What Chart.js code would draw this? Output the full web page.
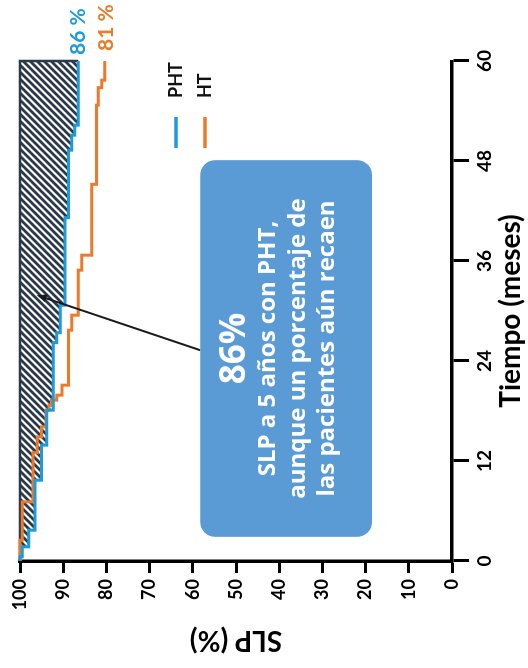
<!DOCTYPE html>
<html>
<head>
<meta charset="utf-8">
<script src="https://cdn.jsdelivr.net/npm/chart.js@4.4.0/dist/chart.umd.min.js"></script>
<style>
html,body{margin:0;padding:0;background:#fff;overflow:hidden;}
#wrap{position:absolute;left:0;top:0;width:668px;height:528px;transform-origin:0 0;transform:translateY(668px) rotate(-90deg);}
</style>
</head>
<body>
<div id="wrap"><canvas id="km" width="668" height="528"></canvas></div>
<script>
// months and progression-free survival (%)
const phtMonths=[0,0.5,1.7,3.7,9.7,13.9,18.1,26.2,27.4,30.7,41.2,49.3,51.1,52.3,60];
const phtSlp=[100,99.5,98,96.5,95,93.8,92.3,91.5,90.7,89.6,88.8,88,87.3,86.5,86.5];
const htMonths=[0,2.5,7.1,13,14.9,16.1,18.1,18.7,19.3,19.9,21.1,27.7,29.5,34.9,36.7,45.2,54.7,56.8,57.7,60];
const htSlp=[100,99.5,97,96,95,94,93.3,92.7,91.5,90.3,88.8,88,86.5,85.7,83.4,82.3,81.9,81.1,80.4,80.4];
const timeTicks=[0,12,24,36,48,60];
const slpTicks=[0,10,20,30,40,50,60,70,80,90,100];
const seriesNames=["PHT","HT"];
const endLabels=["86 %","81 %"];
const noteLines=["86%","SLP a 5 años con PHT,","aunque un porcentaje de","las pacientes aún recaen"];

const blue="#1d9bd8", orange="#ec7a2b", ink="#000", hatchInk="#2b394d", noteBlue="#5b9bd5";
const font="Lato, 'Open Sans', sans-serif";
const noteFont="'Open Sans', Lato, sans-serif";

function pts(xs,ys){
return xs.map((x,i)=>({x:x,y:ys[i]}));
}

function hatchPattern(ctx){
let c=document.createElement("canvas");
c.width=7;c.height=7;
let h=c.getContext("2d");
h.fillStyle="#fff";
h.fillRect(0,0,7,7);
h.strokeStyle=hatchInk;
h.lineWidth=2.8;
h.beginPath();
h.moveTo(-1,8);h.lineTo(8,-1);
h.moveTo(-2,2);h.lineTo(2,-2);
h.moveTo(5,9);h.lineTo(9,5);
h.stroke();
return ctx.createPattern(c,"repeat");
}

const notesPlugin={
id:"notes",
afterDraw(chart){
let ctx=chart.ctx, xs=chart.scales.x, ys=chart.scales.y, area=chart.chartArea;
ctx.save();

// arrow from the box to the hatched area
let x0=xs.getPixelForValue(25.3), y0=ys.getPixelForValue(58.3);
let x1=xs.getPixelForValue(31.9), y1=ys.getPixelForValue(96.1);
let a=Math.atan2(y1-y0,x1-x0);
ctx.strokeStyle="#1a1a1a";
ctx.fillStyle="#1a1a1a";
ctx.lineWidth=2;
ctx.beginPath();
ctx.moveTo(x0,y0);
ctx.lineTo(x1-6*Math.cos(a),y1-6*Math.sin(a));
ctx.stroke();
ctx.beginPath();
ctx.moveTo(x1,y1);
ctx.lineTo(x1-10*Math.cos(a)+4*Math.sin(a),y1-10*Math.sin(a)-4*Math.cos(a));
ctx.lineTo(x1-10*Math.cos(a)-4*Math.sin(a),y1-10*Math.sin(a)+4*Math.cos(a));
ctx.closePath();
ctx.fill();

// rounded note box
let bl=xs.getPixelForValue(2.9), br=xs.getPixelForValue(48.1);
let bt=ys.getPixelForValue(58.3), bb=ys.getPixelForValue(18.5);
let r=15;
ctx.fillStyle=noteBlue;
ctx.beginPath();
ctx.moveTo(bl+r,bt);
ctx.lineTo(br-r,bt);
ctx.arcTo(br,bt,br,bt+r,r);
ctx.lineTo(br,bb-r);
ctx.arcTo(br,bb,br-r,bb,r);
ctx.lineTo(bl+r,bb);
ctx.arcTo(bl,bb,bl,bb-r,r);
ctx.lineTo(bl,bt+r);
ctx.arcTo(bl,bt,bl+r,bt,r);
ctx.closePath();
ctx.fill();

let cx=(bl+br)/2;
ctx.fillStyle="#fff";
ctx.textAlign="center";
ctx.textBaseline="middle";
ctx.font="bold 35px "+noteFont;
ctx.fillText(noteLines[0],cx,bt+35);
ctx.font="bold 24px "+noteFont;
ctx.fillText(noteLines[1],cx,bt+68);
ctx.fillText(noteLines[2],cx,bt+98);
ctx.fillText(noteLines[3],cx,bt+127);

// legend
ctx.lineWidth=3.5;
ctx.textAlign="left";
ctx.font="bold 18px "+font;
[blue,orange].forEach((c,i)=>{
let ly=176+i*29;
ctx.strokeStyle=c;
ctx.beginPath();
ctx.moveTo(520,ly);ctx.lineTo(551,ly);
ctx.stroke();
ctx.fillStyle="#111";
ctx.fillText(seriesNames[i],570,ly);
});

// end-of-curve labels
ctx.font="bold 21px "+font;
ctx.fillStyle=blue;
ctx.fillText(endLabels[0],area.right+6,ys.getPixelForValue(phtSlp[phtSlp.length-1]));
ctx.fillStyle=orange;
ctx.fillText(endLabels[1],area.right+10,ys.getPixelForValue(htSlp[htSlp.length-1])+2);

ctx.restore();
}
};

let canvas=document.getElementById("km");
let ctx=canvas.getContext("2d");
let lastPht=phtSlp[phtSlp.length-1];

new Chart(canvas,{
type:"line",
data:{
datasets:[
{label:seriesNames[0],data:pts(phtMonths,phtSlp),borderColor:blue,borderWidth:3,stepped:true,pointRadius:0,fill:false,clip:6},
{label:seriesNames[1],data:pts(htMonths,htSlp),borderColor:orange,borderWidth:3,stepped:true,pointRadius:0,fill:false,clip:6},
{label:"edge",data:pts([0,60,60],[100,100,lastPht]),borderColor:hatchInk,borderWidth:2.5,pointRadius:0,fill:false,clip:6},
{label:"hatch",data:pts(phtMonths,phtSlp),borderWidth:0,borderColor:"rgba(0,0,0,0)",backgroundColor:hatchPattern(ctx),stepped:true,pointRadius:0,fill:{value:100},clip:6}
]
},
options:{
responsive:false,
animation:false,
devicePixelRatio:1,
layout:{padding:{top:20,right:61,left:0,bottom:0}},
plugins:{legend:{display:false},tooltip:{enabled:false}},
scales:{
x:{
type:"linear",position:"bottom",min:0,max:60,
afterBuildTicks:s=>{s.ticks=timeTicks.map(v=>({value:v}));},
afterFit:s=>{s.height=76;},
ticks:{color:ink,font:{family:font,size:19,weight:"bold"},padding:4,maxRotation:0},
grid:{drawOnChartArea:false,drawTicks:true,tickLength:17,tickWidth:3,tickColor:ink},
border:{color:ink,width:3.5},
title:{display:true,text:"Tiempo (meses)",color:ink,font:{family:font,size:28,weight:"bold"},padding:{top:0,bottom:0}}
},
y:{
type:"linear",min:0,max:100,
afterBuildTicks:s=>{s.ticks=slpTicks.map(v=>({value:v}));},
afterFit:s=>{s.width=107;},
ticks:{color:ink,font:{family:font,size:18,weight:"bold"},padding:6},
grid:{drawOnChartArea:false,drawTicks:true,tickLength:12,tickWidth:3,tickColor:ink},
border:{color:ink,width:3.5},
title:{display:true,text:"SLP (%)",color:ink,font:{family:font,size:28,weight:"bold"},padding:{top:11,bottom:0}}
}
}
},
plugins:[notesPlugin]
});
</script>
</body>
</html>
